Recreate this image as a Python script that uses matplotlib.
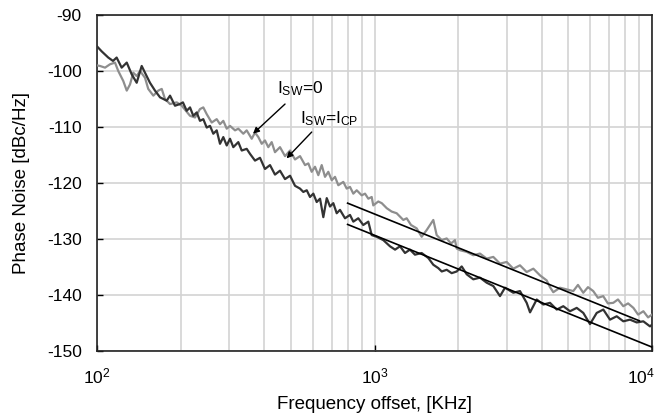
import matplotlib
matplotlib.use("Agg")
import matplotlib.pyplot as plt
import matplotlib.transforms as mtransforms
from matplotlib.ticker import LogLocator, FixedLocator, NullFormatter

plt.rcParams['font.family'] = ['Liberation Sans', 'DejaVu Sans']
plt.rcParams['mathtext.fontset'] = 'custom'
plt.rcParams['mathtext.rm'] = 'Liberation Sans'
plt.rcParams['mathtext.it'] = 'Liberation Sans'
plt.rcParams['axes.unicode_minus'] = False

# ---- data ----
freq_sw0 = [100, 102.5, 106.9, 111.4, 116.1, 119.3, 124.4, 128, 131.5, 135.1, 139, 142.9,
            148.9, 153, 159.6, 166.3, 171.1, 175.8, 183.3, 193.8, 202, 216.4, 225.6, 235,
            241.6, 248.5, 259, 270, 277.5, 285.2, 293.4, 301.5, 314.3, 323, 336.7, 346.3,
            361, 371, 381.4, 392.3, 403, 414.3, 426.1, 437.9, 456.5, 475.9, 496.2, 517.1,
            539, 561.9, 577.5, 593.8, 610.4, 627.4, 645.3, 663.2, 681.6, 701.2, 720.6,
            740.6, 772, 794, 816, 838.8, 862.8, 899.3, 924.4, 950, 977, 990, 1032, 1062,
            1107, 1153, 1202, 1270, 1306, 1354, 1419, 1479, 1542, 1629, 1675, 1746, 1820,
            1887, 1950, 1978, 2033, 2149, 2270, 2399, 2536, 2680, 2833, 2994, 3164, 3344,
            3535, 3736, 3949, 4174, 4290, 4408, 4660, 4926, 5205, 5410, 5653, 5879, 6141,
            6385, 6670, 6934, 7250, 7540, 7880, 8200, 8570, 8910, 9310, 9680, 10000]
pn_sw0 = [-99.0, -99.1, -99.4, -98.8, -98.5, -100.0, -101.8, -103.5, -102.4, -100.3, -100.9,
          -100.0, -101.2, -103.2, -104.4, -103.5, -103.2, -105.0, -105.9, -105.6, -106.2,
          -108.0, -108.3, -106.8, -106.5, -107.7, -109.2, -108.6, -109.5, -108.9, -110.3,
          -109.8, -110.6, -110.3, -111.2, -110.6, -112.1, -111.0, -111.8, -113.0, -112.4,
          -113.6, -112.7, -114.5, -113.6, -115.2, -114.2, -115.8, -115.2, -116.8, -116.5,
          -118.0, -117.1, -118.6, -116.8, -118.9, -118.0, -119.5, -118.9, -120.4, -119.8,
          -121.0, -120.7, -121.9, -121.3, -122.2, -121.9, -122.8, -122.5, -124.0, -123.3,
          -123.6, -124.5, -125.1, -125.4, -126.6, -126.3, -127.5, -128.1, -129.6, -128.4,
          -126.6, -129.3, -130.2, -129.9, -130.8, -130.2, -131.7, -132.0, -132.3, -132.9,
          -132.6, -133.5, -133.2, -134.4, -134.1, -135.3, -134.7, -135.9, -135.3, -136.5,
          -137.4, -138.6, -139.5, -138.7, -139.0, -139.3, -138.2, -139.6, -138.6, -139.3,
          -140.5, -140.2, -141.5, -141.4, -140.8, -142.0, -141.5, -142.3, -143.5, -142.9,
          -144.0, -143.5]

freq_swcp = [100, 104, 109.8, 114.2, 117.7, 122.7, 128, 133.4, 139, 144.9, 148.9, 155.2,
             161.8, 168.7, 178.3, 183.3, 191, 199, 204, 210.5, 216.4, 222.3, 228.7, 235,
             241.6, 248.5, 255.4, 262.5, 270, 277.5, 285.2, 293.4, 301.5, 309.9, 323, 332.3,
             346.3, 356, 371, 386.7, 403, 420.2, 437.9, 456.5, 475.9, 496.2, 517.1, 539,
             554, 570, 585.6, 602, 619, 636.4, 654, 672.8, 691.3, 710.5, 730.8, 751, 783,
             816, 838.8, 874, 911, 950, 977, 1018, 1076, 1137, 1186, 1236, 1288, 1342,
             1399, 1479, 1563, 1629, 1698, 1747, 1821, 1897, 1978, 2062, 2149, 2270, 2399,
             2536, 2680, 2833, 2953, 3164, 3344, 3535, 3635, 3842, 4058, 4290, 4536, 4790,
             5064, 5354, 5655, 5979, 6320, 6676, 7058, 7461, 7883, 8331, 8808, 9305, 9835,
             10000]
pn_swcp = [-95.6, -96.5, -97.6, -98.2, -97.6, -99.4, -98.5, -100.6, -102.1, -99.1, -100.3,
           -102.1, -103.5, -104.7, -105.3, -104.4, -106.2, -105.9, -105.6, -107.1, -106.5,
           -108.0, -107.4, -108.9, -108.6, -110.1, -109.8, -111.2, -110.6, -113.0, -111.8,
           -113.3, -112.1, -113.6, -112.7, -114.2, -113.9, -114.8, -116.0, -115.5, -117.5,
           -116.8, -118.5, -117.8, -119.3, -118.7, -120.5, -121.0, -121.6, -121.3, -122.5,
           -121.9, -123.4, -122.8, -126.1, -122.7, -124.2, -123.6, -125.4, -124.8, -126.3,
           -125.7, -126.9, -126.3, -127.5, -126.9, -129.3, -129.6, -130.2, -131.3, -131.9,
           -131.3, -132.5, -131.9, -132.8, -132.5, -133.4, -134.6, -135.2, -135.8, -135.5,
           -136.1, -135.8, -134.9, -136.3, -137.2, -136.9, -137.8, -138.4, -140.2, -138.7,
           -139.6, -139.3, -141.4, -143.1, -140.8, -141.7, -141.4, -142.6, -142.0, -142.9,
           -142.3, -143.2, -145.2, -143.2, -142.6, -144.4, -143.8, -144.7, -144.4, -144.9,
           -144.7, -145.6, -145.3]

fit_upper_f = [800, 9000]
fit_upper_pn = [-123.6, -144.6]
fit_lower_f = [800, 10000]
fit_lower_pn = [-127.4, -149.3]

xticks = [100, 1000, 10000]
xtick_labels = [r'$10^{2}$', r'$10^{3}$', r'$10^{4}$']
yticks = [-150, -140, -130, -120, -110, -100, -90]

label_sw0 = r'I$_{\mathrm{SW}}$=0'
label_swcp = r'I$_{\mathrm{SW}}$=I$_{\mathrm{CP}}$'

# ---- figure ----
fig = plt.figure(figsize=(6.64, 4.2), dpi=100)
ax = fig.add_axes([97/664, 1 - 351/420, (652 - 97)/664, (351 - 15)/420])

ax.set_xscale('log')
ax.set_xlim(100, 10000)
ax.set_ylim(-150, -90)

ax.plot(freq_sw0, pn_sw0, color='#8e8e8e', lw=1.6, zorder=3)
ax.plot(freq_swcp, pn_swcp, color='#333333', lw=1.6, zorder=4)
ax.plot(fit_upper_f, fit_upper_pn, color='black', lw=1.2, zorder=5)
ax.plot(fit_lower_f, fit_lower_pn, color='black', lw=1.2, zorder=5)

ax.xaxis.set_major_locator(FixedLocator(xticks))
ax.set_xticklabels(xtick_labels)
ax.xaxis.set_minor_locator(LogLocator(base=10, subs=range(2, 10)))
ax.xaxis.set_minor_formatter(NullFormatter())
ax.set_yticks(yticks)

ax.grid(True, which='both', axis='x', color='#d3d3d3', lw=1.2, zorder=0)
ax.grid(True, which='major', axis='y', color='#d3d3d3', lw=1.2, zorder=0)
ax.set_axisbelow(True)

ax.tick_params(axis='both', which='major', direction='in', length=4, width=1,
               colors='black')
ax.tick_params(axis='y', which='major', labelsize=12.5, pad=11)
ax.tick_params(axis='x', which='major', labelsize=12.5, pad=11)
ax.tick_params(axis='x', which='minor', length=0)
for s in ax.spines.values():
    s.set_linewidth(1.2)
    s.set_color('#222222')

# keep the last x tick label inside the figure
last = ax.get_xticklabels()[-1]
last.set_transform(last.get_transform() +
                   mtransforms.ScaledTranslation(-8/72, 0, fig.dpi_scale_trans))

ax.set_xlabel('Frequency offset, [KHz]', fontsize=13.5, labelpad=7)
ax.set_ylabel('Phase Noise [dBc/Hz]', fontsize=13.5, labelpad=12)

ax.text(445, -103.2, label_sw0, fontsize=12.5, va='center', ha='left')
ax.text(539, -108.5, label_swcp, fontsize=12.5, va='center', ha='left')
ax.annotate('', xy=(365, -111.2), xytext=(476, -105.9),
            arrowprops=dict(arrowstyle='-|>', color='black', lw=1.0,
                            mutation_scale=9, shrinkA=0, shrinkB=0))
ax.annotate('', xy=(482, -115.6), xytext=(594, -110.9),
            arrowprops=dict(arrowstyle='-|>', color='black', lw=1.0,
                            mutation_scale=9, shrinkA=0, shrinkB=0))

fig.savefig('out.png', dpi=100)
